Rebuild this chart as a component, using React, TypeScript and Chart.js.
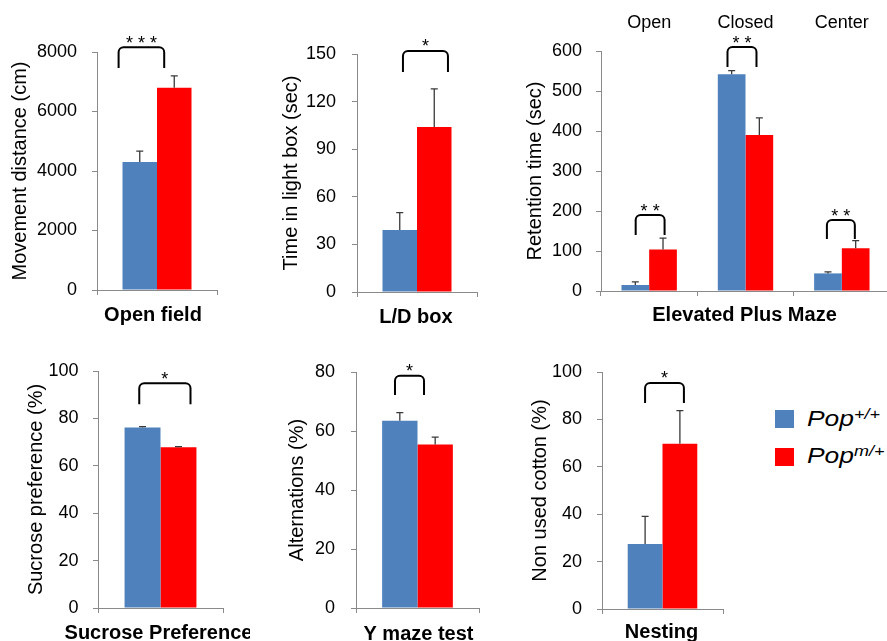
import React, { useEffect, useRef } from 'react';
import { Chart, registerables } from 'chart.js';

Chart.register(...registerables);

const FONT = '"Liberation Sans", Arial, Helvetica, sans-serif';
const BLUE = '#4f81bd';
const RED = '#ff0000';
const AXIS = '#8a8a8a';
const ERR = '#3a3a3a';

// Legend / series names
const seriesBase = ['Pop', 'Pop'];
const seriesSup = ['+/+', 'm/+'];
const seriesColors = [BLUE, RED];

// ---- Open field ----
const openFieldLabels = ['Open field'];
const openFieldWT = [4300];
const openFieldWTErr = [370];
const openFieldMut = [6800];
const openFieldMutErr = [400];
const openFieldTicks = [0, 2000, 4000, 6000, 8000];
const openFieldSig = ['* * *'];
const openFieldSigTop = [8158];
const openFieldSigBottom = [7462];

// ---- L/D box ----
const ldLabels = ['L/D box'];
const ldWT = [39];
const ldWTErr = [11];
const ldMut = [104];
const ldMutErr = [24];
const ldTicks = [0, 30, 60, 90, 120, 150];
const ldSig = ['*'];
const ldSigTop = [151.9];
const ldSigBottom = [138.7];

// ---- Elevated Plus Maze ----
const epmLabels = ['Open', 'Closed', 'Center'];
const epmWT = [15, 542, 44];
const epmWTErr = [8, 9, 4];
const epmMut = [104, 390, 107];
const epmMutErr = [28, 43, 19];
const epmTicks = [0, 100, 200, 300, 400, 500, 600];
const epmSig = ['* *', '* *', '* *'];
const epmSigTop = [190, 610, 177.5];
const epmSigBottom = [140, 560, 130];

// ---- Sucrose Preference ----
const sucLabels = ['Sucrose Preference'];
const sucWT = [76.2];
const sucWTErr = [0.3];
const sucMut = [67.8];
const sucMutErr = [0.3];
const sucTicks = [0, 20, 40, 60, 80, 100];
const sucSig = ['*'];
const sucSigTop = [94.8];
const sucSigBottom = [86];

// ---- Y maze ----
const ymLabels = ['Y maze test'];
const ymWT = [63.5];
const ymWTErr = [2.7];
const ymMut = [55.4];
const ymMutErr = [2.5];
const ymTicks = [0, 20, 40, 60, 80];
const ymSig = ['*'];
const ymSigTop = [78.7];
const ymSigBottom = [72.2];

// ---- Nesting ----
const nestLabels = ['Nesting'];
const nestWT = [27.4];
const nestWTErr = [11.7];
const nestMut = [69.7];
const nestMutErr = [14];
const nestTicks = [0, 20, 40, 60, 80, 100];
const nestSig = ['*'];
const nestSigTop = [95.4];
const nestSigBottom = [86.9];

type Panel = {
  key: string;
  left: number;
  top: number;
  width: number;
  height: number;
  labels: string[];
  wt: number[];
  wtErr: number[];
  mut: number[];
  mutErr: number[];
  ticks: number[];
  yTitle: string;
  xTitle: string;
  sig: string[];
  sigTop: number[];
  sigBottom: number[];
  sigX: number[][];
  yAxisW: number;
  xAxisH: number;
  padTop: number;
  padRight: number;
  yTitlePad: number;
  xTitleBaseline: number;
  xTitleShift: number;
  tickPad: number;
  topLabels?: boolean;
};

const panels: Panel[] = [
  {
    key: 'of', left: 0, top: 0, width: 250, height: 340,
    labels: openFieldLabels, wt: openFieldWT, wtErr: openFieldWTErr, mut: openFieldMut, mutErr: openFieldMutErr,
    ticks: openFieldTicks, yTitle: 'Movement distance (cm)', xTitle: 'Open field',
    sig: openFieldSig, sigTop: openFieldSigTop, sigBottom: openFieldSigBottom, sigX: [[-0.32, 0.06]],
    yAxisW: 97, xAxisH: 50, padTop: 52, padRight: 33, yTitlePad: 8, xTitleBaseline: 321, xTitleShift: -4, tickPad: 15,
  },
  {
    key: 'ld', left: 250, top: 0, width: 250, height: 340,
    labels: ldLabels, wt: ldWT, wtErr: ldWTErr, mut: ldMut, mutErr: ldMutErr,
    ticks: ldTicks, yTitle: 'Time in light box (sec)', xTitle: 'L/D box',
    sig: ldSig, sigTop: ldSigTop, sigBottom: ldSigBottom, sigX: [[-0.117, 0.258]],
    yAxisW: 107, xAxisH: 48, padTop: 54, padRight: 23, yTitlePad: 29.4, xTitleBaseline: 323, xTitleShift: -1, tickPad: 16,
  },
  {
    key: 'epm', left: 500, top: 0, width: 400, height: 340,
    labels: epmLabels, wt: epmWT, wtErr: epmWTErr, mut: epmMut, mutErr: epmMutErr,
    ticks: epmTicks, yTitle: 'Retention time (sec)', xTitle: 'Elevated Plus Maze',
    sig: epmSig, sigTop: epmSigTop, sigBottom: epmSigBottom,
    sigX: [[-0.14, 0.16], [-0.187, 0.114], [-0.155, 0.135]],
    yAxisW: 101, xAxisH: 49, padTop: 0, padRight: 10, yTitlePad: 23.8, xTitleBaseline: 321, xTitleShift: -1, tickPad: 14,
    topLabels: true,
  },
  {
    key: 'suc', left: 0, top: 330, width: 250, height: 330,
    labels: sucLabels, wt: sucWT, wtErr: sucWTErr, mut: sucMut, mutErr: sucMutErr,
    ticks: sucTicks, yTitle: 'Sucrose preference (%)', xTitle: 'Sucrose Preference',
    sig: sucSig, sigTop: sucSigTop, sigBottom: sucSigBottom, sigX: [[-0.17, 0.24]],
    yAxisW: 98, xAxisH: 52, padTop: 41, padRight: 27, yTitlePad: 24.4, xTitleBaseline: 639, xTitleShift: -2, tickPad: 14.5,
  },
  {
    key: 'ym', left: 250, top: 330, width: 250, height: 330,
    labels: ymLabels, wt: ymWT, wtErr: ymWTErr, mut: ymMut, mutErr: ymMutErr,
    ticks: ymTicks, yTitle: 'Alternations (%)', xTitle: 'Y maze test',
    sig: ymSig, sigTop: ymSigTop, sigBottom: ymSigBottom, sigX: [[-0.183, 0.053]],
    yAxisW: 106, xAxisH: 52, padTop: 42, padRight: 21, yTitlePad: 35.4, xTitleBaseline: 639.5, xTitleShift: 1, tickPad: 16,
  },
  {
    key: 'nest', left: 500, top: 330, width: 250, height: 330,
    labels: nestLabels, wt: nestWT, wtErr: nestWTErr, mut: nestMut, mutErr: nestMutErr,
    ticks: nestTicks, yTitle: 'Non used cotton (%)', xTitle: 'Nesting',
    sig: nestSig, sigTop: nestSigTop, sigBottom: nestSigBottom, sigX: [[-0.144, 0.177]],
    yAxisW: 102, xAxisH: 51, padTop: 42, padRight: 27, yTitlePad: 28.8, xTitleBaseline: 638, xTitleShift: -1, tickPad: 15,
  },
];

function PanelChart({ p }: { p: Panel }) {
  const ref = useRef<HTMLCanvasElement>(null);

  useEffect(() => {
    const canvas = ref.current;
    if (!canvas) return;

    const errSigPlugin = {
      id: 'errSig',
      afterDatasetsDraw(chart: any) {
        const ctx = chart.ctx;
        const xs = chart.scales.x;
        const ys = chart.scales.y;
        const errs = [p.wtErr, p.mutErr];
        ctx.save();
        ctx.strokeStyle = ERR;
        ctx.lineWidth = 1.3;
        chart.data.datasets.forEach((ds: any, di: number) => {
          const meta = chart.getDatasetMeta(di);
          meta.data.forEach((bar: any, j: number) => {
            const v = ds.data[j];
            const e = errs[di][j];
            const yTop = ys.getPixelForValue(v + e);
            ctx.beginPath();
            ctx.moveTo(bar.x, bar.y);
            ctx.lineTo(bar.x, yTop);
            ctx.moveTo(bar.x - 3.5, yTop);
            ctx.lineTo(bar.x + 3.5, yTop);
            ctx.stroke();
          });
        });

        const catW = (xs.right - xs.left) / p.labels.length;
        ctx.strokeStyle = '#000';
        ctx.fillStyle = '#000';
        ctx.lineWidth = 2;
        ctx.font = `18px ${FONT}`;
        ctx.textAlign = 'center';
        ctx.textBaseline = 'alphabetic';
        p.sig.forEach((s, i) => {
          if (!s) return;
          const c = xs.getPixelForValue(i);
          const x1 = c + p.sigX[i][0] * catW;
          const x2 = c + p.sigX[i][1] * catW;
          const yt = ys.getPixelForValue(p.sigTop[i]);
          const yb = ys.getPixelForValue(p.sigBottom[i]);
          const r = 5;
          ctx.beginPath();
          ctx.moveTo(x1, yb);
          ctx.lineTo(x1, yt + r);
          ctx.arcTo(x1, yt, x1 + r, yt, r);
          ctx.lineTo(x2 - r, yt);
          ctx.arcTo(x2, yt, x2, yt + r, r);
          ctx.lineTo(x2, yb);
          ctx.stroke();
          ctx.fillText(s, (x1 + x2) / 2, yt + 1.5);
        });

        // x-axis (panel) title, drawn without width compression
        ctx.font = `bold 20px ${FONT}`;
        ctx.fillStyle = '#000';
        ctx.textAlign = 'center';
        ctx.textBaseline = 'alphabetic';
        ctx.fillText(p.xTitle, (xs.left + xs.right) / 2 + p.xTitleShift, p.xTitleBaseline - p.top);
        ctx.restore();
      },
    };

    const yMin = p.ticks[0];
    const yMax = p.ticks[p.ticks.length - 1];
    const step = p.ticks[1] - p.ticks[0];

    const scales: any = {
      x: {
        type: 'category',
        offset: true,
        grid: { offset: true, drawOnChartArea: false, drawTicks: true, tickLength: 5, color: AXIS, lineWidth: 1 },
        border: { display: true, color: AXIS, width: 1 },
        ticks: { display: false },
        title: { display: false },
        afterFit: (s: any) => {
          s.height = p.xAxisH;
        },
      },
      y: {
        type: 'linear',
        min: yMin,
        max: yMax,
        grid: { drawOnChartArea: false, drawTicks: true, tickLength: 5, color: AXIS, lineWidth: 1 },
        border: { display: true, color: AXIS, width: 1 },
        ticks: {
          stepSize: step,
          padding: p.tickPad,
          color: '#000',
          font: { family: FONT, size: 18 },
          callback: (v: any) => String(v),
        },
        title: {
          display: true,
          text: p.yTitle,
          color: '#000',
          font: { family: FONT, size: 20 },
          padding: { top: p.yTitlePad, bottom: 0 },
        },
        afterFit: (s: any) => {
          s.width = p.yAxisW;
        },
      },
    };

    if (p.topLabels) {
      scales.xTop = {
        type: 'category',
        position: 'top',
        labels: p.labels,
        offset: true,
        grid: { display: false, drawTicks: false, drawOnChartArea: false },
        border: { display: false },
        ticks: {
          color: '#000',
          font: { family: FONT, size: 18 },
          padding: 17.4,
          maxRotation: 0,
          autoSkip: false,
        },
        afterFit: (s: any) => {
          s.height = 51;
        },
      };
    }

    const chart = new Chart(canvas, {
      type: 'bar',
      data: {
        labels: p.labels,
        datasets: [
          {
            label: seriesBase[0] + seriesSup[0],
            data: p.wt,
            backgroundColor: seriesColors[0],
            borderWidth: 0,
            barPercentage: 1,
            categoryPercentage: 0.575,
          },
          {
            label: seriesBase[1] + seriesSup[1],
            data: p.mut,
            backgroundColor: seriesColors[1],
            borderWidth: 0,
            barPercentage: 1,
            categoryPercentage: 0.575,
          },
        ],
      },
      options: {
        animation: false,
        responsive: false,
        maintainAspectRatio: false,
        devicePixelRatio: 1,
        layout: { padding: { top: p.padTop, right: p.padRight, left: 0, bottom: 0 } },
        plugins: {
          legend: { display: false },
          tooltip: { enabled: false },
          title: { display: false },
        },
        scales,
      } as any,
      plugins: [errSigPlugin],
    });

    return () => {
      chart.destroy();
    };
  }, [p]);

  return (
    <canvas
      ref={ref}
      width={p.width}
      height={p.height}
      style={{ position: 'absolute', left: p.left, top: p.top, width: p.width, height: p.height }}
    />
  );
}

function Legend() {
  const rows = [
    { sq: 410, textTop: 408.4 },
    { sq: 448, textTop: 444.7 },
  ];
  return (
    <>
      {rows.map((r, i) => (
        <React.Fragment key={i}>
          <div
            style={{
              position: 'absolute',
              left: 775,
              top: r.sq,
              width: 19,
              height: 18,
              background: seriesColors[i],
            }}
          />
          <div
            style={{
              position: 'absolute',
              left: 807,
              top: r.textTop,
              fontFamily: FONT,
              fontStyle: 'italic',
              fontSize: 22,
              lineHeight: '22px',
              color: '#000',
              whiteSpace: 'nowrap',
              transform: 'scaleX(1.2)',
              transformOrigin: 'left top',
            }}
          >
            {seriesBase[i]}
            <span style={{ fontSize: 15, position: 'relative', top: -7 }}>{seriesSup[i]}</span>
          </div>
        </React.Fragment>
      ))}
    </>
  );
}

export default function App() {
  return (
    <div
      style={{
        position: 'fixed',
        left: 0,
        top: 0,
        width: 887,
        height: 641,
        overflow: 'hidden',
        background: '#fff',
      }}
    >
      {panels.map((p) => (
        <PanelChart key={p.key} p={p} />
      ))}
      <Legend />
    </div>
  );
}
